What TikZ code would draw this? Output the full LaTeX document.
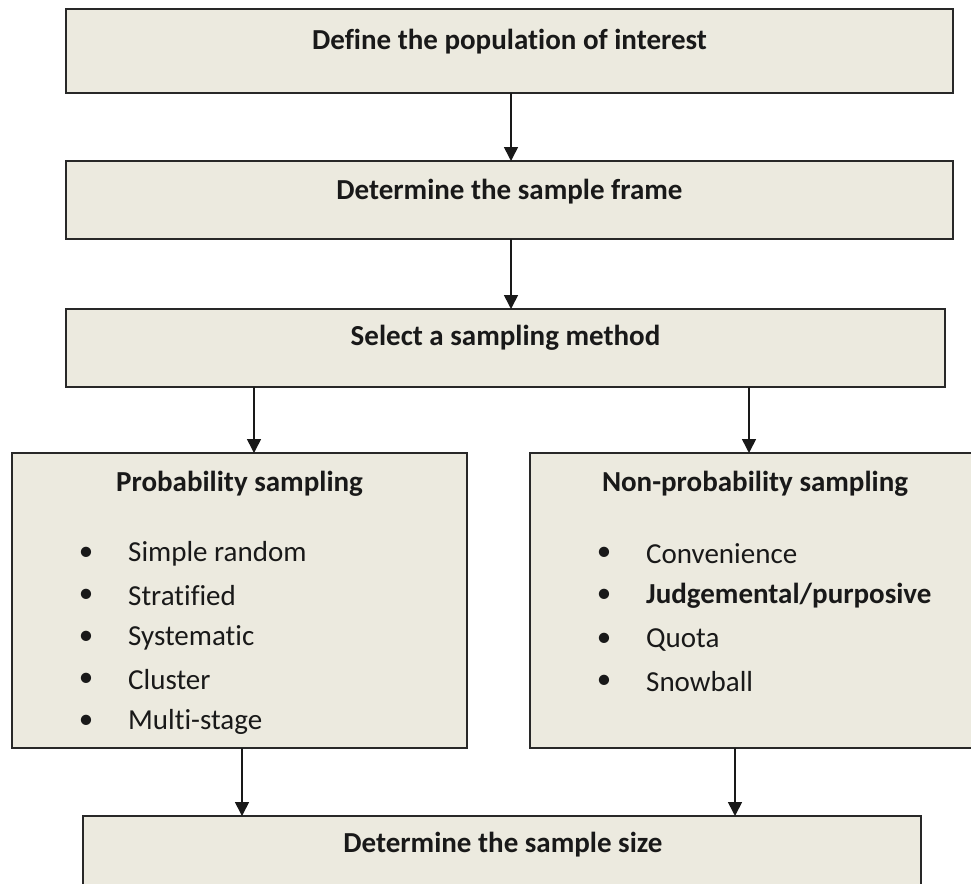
\documentclass[tikz,border=0pt]{standalone}
\usepackage{fontspec}
\setmainfont{Carlito}[Ligatures={CommonOff,RareOff}]
\usetikzlibrary{arrows.meta}
\definecolor{boxfill}{RGB}{236,234,223}
\definecolor{boxline}{RGB}{40,40,40}
\definecolor{ink}{RGB}{25,25,25}
\begin{document}
\begin{tikzpicture}[x=1pt,y=-1pt,
  box/.style={draw=boxline, fill=boxfill, line width=2pt, rectangle, inner sep=0pt, outer sep=0pt},
  title/.style={font=\fontsize{29}{34}\selectfont\bfseries, text=ink, inner sep=0pt},
  item/.style={font=\fontsize{29}{34}\selectfont, text=ink, inner sep=0pt, anchor=west},
  boldcitem/.style={item, font=\fontsize{29}{34}\selectfont\bfseries},
  dot/.style={font=\fontsize{29}{34}\selectfont, text=ink, inner sep=0pt},
  arr/.style={draw=ink, line width=1.6pt, -{Triangle[width=14pt,length=14pt]}}]
\useasboundingbox (0,0) rectangle (971,883);
\clip (0,0) rectangle (971,883);
\fill[white] (0,0) rectangle (971,883);

% main steps
\node[box, minimum width=887pt, minimum height=84pt] (pop) at (509.5,51) {};
\node[title] (popT) at (509.5,42) {Define the population of interest};

\node[box, minimum width=887pt, minimum height=78pt] (frame) at (509.5,200) {};
\node[title] (frameT) at (509.5,192) {Determine the sample frame};

\node[box, minimum width=879pt, minimum height=78pt] (select) at (505.5,348) {};
\node[title] (selectT) at (505.5,338) {Select a sampling method};

% the two families of methods
\node[box, minimum width=455pt, minimum height=295pt] (prob) at (239.5,600.5) {};
\node[title] (probT) at (239.5,484) {Probability sampling};

\node[box, minimum width=450pt, minimum height=295pt] (nonp) at (755,600.5) {};
\node[title] (nonpT) at (755,484) {Non-probability sampling};

% probability sampling methods
\foreach \t [count=\i] in {Simple random, Stratified, Systematic, Cluster, Multi-stage} {
  \node[dot] (pb\i) at (86,{554+42*(\i-1)}) {•};
  \node[item] (pi\i) at (128,{554+42*(\i-1)}) {\t};
}

% non-probability sampling methods
\node[dot] (nb1) at (604,554) {•};
\node[item] (ni1) at (646,554) {Convenience};
\node[dot] (nb2) at (604,596) {•};
\node[boldcitem] (ni2) at (646,596) {Judgemental/purposive};
\node[dot] (nb3) at (604,640) {•};
\node[item] (ni3) at (646,640) {Quota};
\node[dot] (nb4) at (604,682) {•};
\node[item] (ni4) at (646,682) {Snowball};

% final step
\node[box, minimum width=838pt, minimum height=120pt] (size) at (502,876) {};
\node[title] (sizeT) at (503,845) {Determine the sample size};

% connectors
\coordinate (c1) at (511,0);
\coordinate (c2) at (254,0);
\coordinate (c3) at (749,0);
\coordinate (c4) at (242,0);
\coordinate (c5) at (735,0);
\draw[arr] (pop.south -| c1) -- (frame.north -| c1);
\draw[arr] (frame.south -| c1) -- (select.north -| c1);
\draw[arr] (select.south -| c2) -- (prob.north -| c2);
\draw[arr] (select.south -| c3) -- (nonp.north -| c3);
\draw[arr] (prob.south -| c4) -- (size.north -| c4);
\draw[arr] (nonp.south -| c5) -- (size.north -| c5);
\end{tikzpicture}
\end{document}
